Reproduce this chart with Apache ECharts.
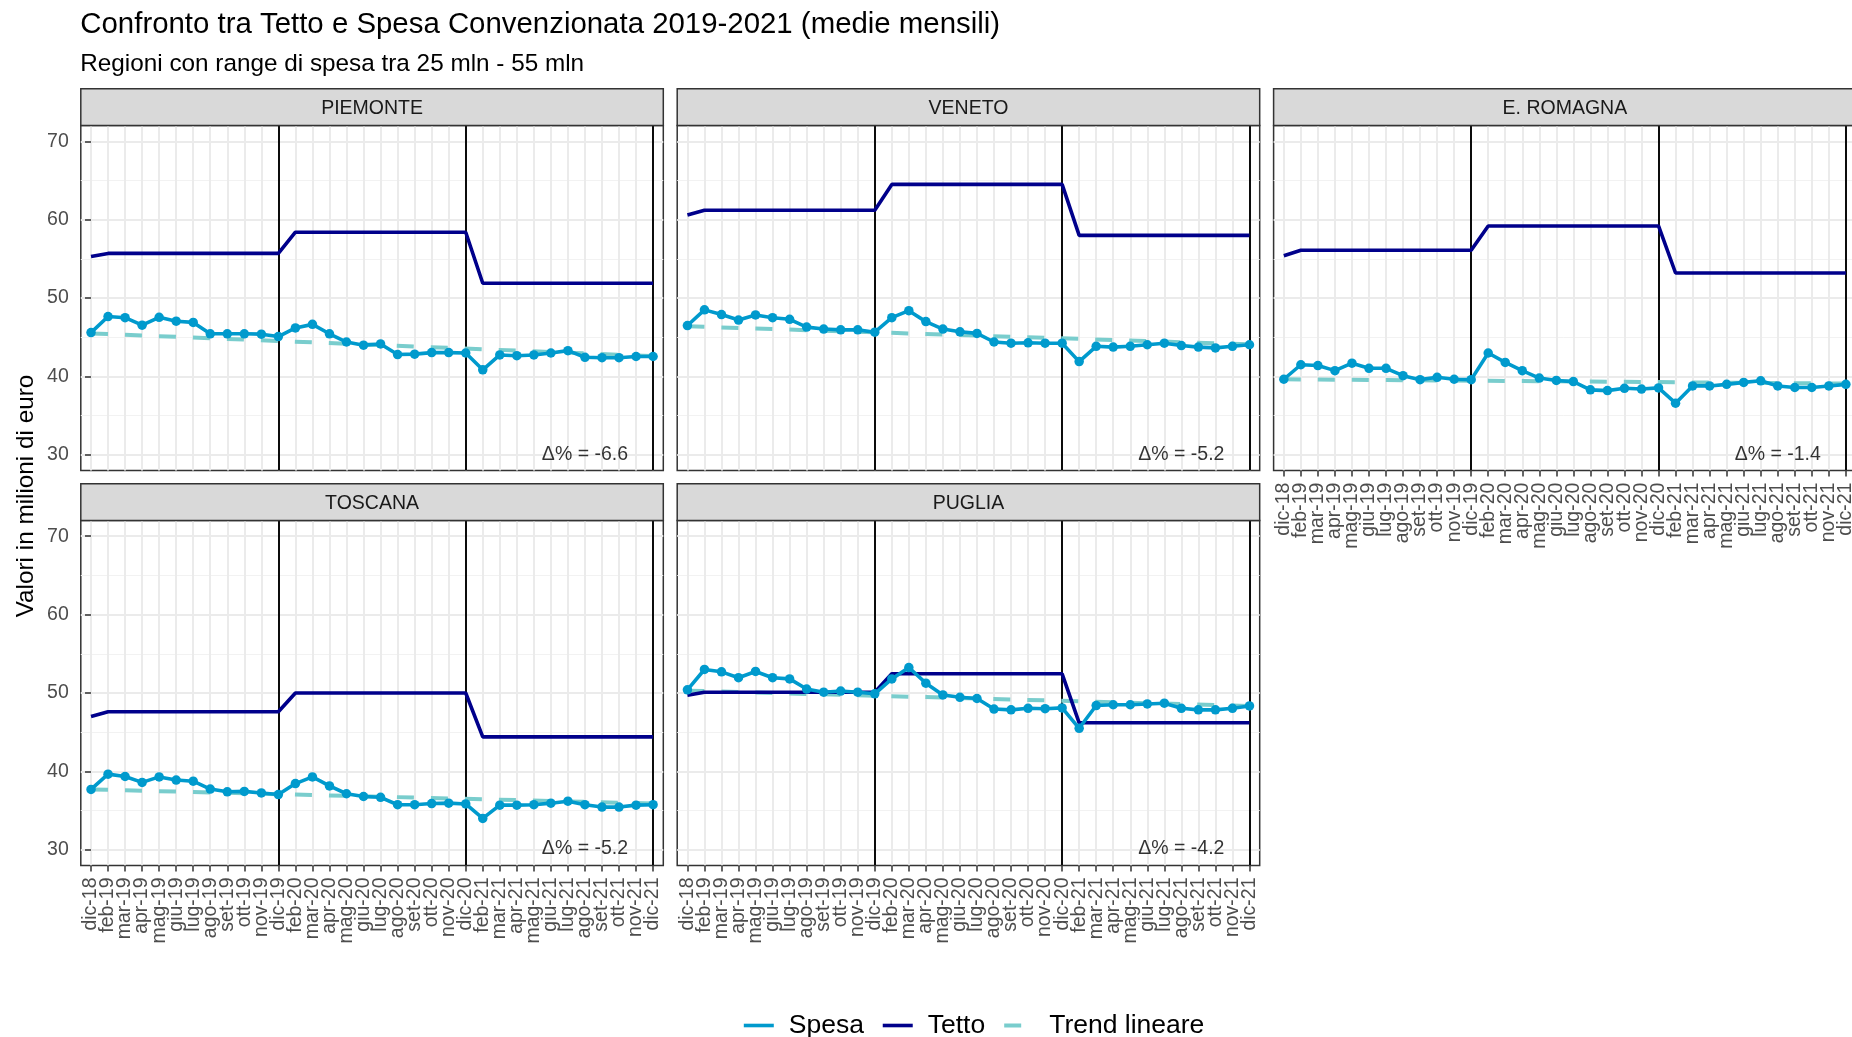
<!DOCTYPE html>
<html>
<head>
<meta charset="UTF-8">
<title>Confronto tra Tetto e Spesa Convenzionata 2019-2021</title>
<script src="https://cdn.jsdelivr.net/npm/echarts@6/dist/echarts.min.js"></script>
<style>
  html, body { margin: 0; padding: 0; background: #fff; }
  #chart { width: 1852px; height: 1037px; }
</style>
</head>
<body>
<div id="chart"></div>
<script type="text/javascript">

// mesi sull'asse x (gennaio non compare)
var mesi = ['dic-18','feb-19','mar-19','apr-19','mag-19','giu-19','lug-19','ago-19','set-19','ott-19','nov-19',
            'dic-19','feb-20','mar-20','apr-20','mag-20','giu-20','lug-20','ago-20','set-20','ott-20','nov-20',
            'dic-20','feb-21','mar-21','apr-21','mag-21','giu-21','lug-21','ago-21','set-21','ott-21','nov-21','dic-21'];
var mesiSoglia = ['dic-19', 'dic-20', 'dic-21'];
var tickY = [30, 40, 50, 60, 70];
var tickYMinor = [35, 45, 55, 65];

var regioni = ['PIEMONTE', 'VENETO', 'E. ROMAGNA', 'TOSCANA', 'PUGLIA'];

var spesaPiemonte = [45.6, 47.65, 47.5, 46.55, 47.55, 47.05, 46.9, 45.45, 45.45, 45.45, 45.4,
                     45.1, 46.2, 46.65, 45.45, 44.4, 44.0, 44.15, 42.8, 42.85, 43.05, 43.05,
                     43.0, 40.85, 42.75, 42.65, 42.75, 43.0, 43.3, 42.45, 42.4, 42.4, 42.55, 42.55];
var spesaVeneto = [46.5, 48.5, 47.9, 47.2, 47.85, 47.5, 47.3, 46.3, 46.05, 45.95, 45.95,
                   45.65, 47.5, 48.4, 47.0, 46.05, 45.7, 45.5, 44.4, 44.25, 44.3, 44.25,
                   44.25, 41.9, 43.85, 43.75, 43.85, 44.05, 44.25, 43.95, 43.75, 43.65, 43.85, 44.05];
var spesaEmilia = [39.65, 41.5, 41.4, 40.75, 41.7, 41.05, 41.05, 40.1, 39.6, 39.9, 39.65,
                   39.6, 43.0, 41.8, 40.75, 39.8, 39.5, 39.35, 38.3, 38.2, 38.5, 38.4,
                   38.55, 36.6, 38.8, 38.8, 39.0, 39.25, 39.45, 38.8, 38.6, 38.6, 38.8, 39.0];
var spesaToscana = [37.7, 39.65, 39.35, 38.6, 39.3, 38.9, 38.75, 37.75, 37.4, 37.45, 37.25,
                    37.05, 38.45, 39.3, 38.15, 37.15, 36.8, 36.7, 35.75, 35.75, 35.9, 35.95,
                    35.85, 34.0, 35.7, 35.7, 35.75, 35.95, 36.2, 35.75, 35.45, 35.45, 35.7, 35.75];
var spesaPuglia = [50.4, 53.0, 52.7, 51.95, 52.75, 51.95, 51.8, 50.5, 50.1, 50.25, 50.1,
                   49.9, 51.8, 53.25, 51.25, 49.75, 49.45, 49.3, 47.95, 47.85, 48.05, 48.0,
                   48.1, 45.5, 48.4, 48.5, 48.5, 48.6, 48.7, 48.05, 47.85, 47.85, 48.05, 48.35];

var tettoPiemonte = [55.3, 55.7, 55.7, 55.7, 55.7, 55.7, 55.7, 55.7, 55.7, 55.7, 55.7,
                     55.7, 58.4, 58.4, 58.4, 58.4, 58.4, 58.4, 58.4, 58.4, 58.4, 58.4,
                     58.4, 51.9, 51.9, 51.9, 51.9, 51.9, 51.9, 51.9, 51.9, 51.9, 51.9, 51.9];
var tettoVeneto = [60.6, 61.2, 61.2, 61.2, 61.2, 61.2, 61.2, 61.2, 61.2, 61.2, 61.2,
                   61.2, 64.5, 64.5, 64.5, 64.5, 64.5, 64.5, 64.5, 64.5, 64.5, 64.5,
                   64.5, 58.0, 58.0, 58.0, 58.0, 58.0, 58.0, 58.0, 58.0, 58.0, 58.0, 58.0];
var tettoEmilia = [55.4, 56.1, 56.1, 56.1, 56.1, 56.1, 56.1, 56.1, 56.1, 56.1, 56.1,
                   56.1, 59.2, 59.2, 59.2, 59.2, 59.2, 59.2, 59.2, 59.2, 59.2, 59.2,
                   59.2, 53.2, 53.2, 53.2, 53.2, 53.2, 53.2, 53.2, 53.2, 53.2, 53.2, 53.2];
var tettoToscana = [47.0, 47.6, 47.6, 47.6, 47.6, 47.6, 47.6, 47.6, 47.6, 47.6, 47.6,
                    47.6, 50.0, 50.0, 50.0, 50.0, 50.0, 50.0, 50.0, 50.0, 50.0, 50.0,
                    50.0, 44.4, 44.4, 44.4, 44.4, 44.4, 44.4, 44.4, 44.4, 44.4, 44.4, 44.4];
var tettoPuglia = [49.7, 50.1, 50.1, 50.1, 50.1, 50.1, 50.1, 50.1, 50.1, 50.1, 50.1,
                   50.1, 52.45, 52.45, 52.45, 52.45, 52.45, 52.45, 52.45, 52.45, 52.45, 52.45,
                   52.45, 46.2, 46.2, 46.2, 46.2, 46.2, 46.2, 46.2, 46.2, 46.2, 46.2, 46.2];

// trend lineare: valore a dic-18 e a dic-21
var trendPiemonte = [45.5, 42.6];
var trendVeneto = [46.4, 44.1];
var trendEmilia = [39.65, 39.1];
var trendToscana = [37.7, 35.9];
var trendPuglia = [50.3, 48.35];

var deltaPerc = ['-6.6', '-5.2', '-1.4', '-5.2', '-4.2'];

var spese = [spesaPiemonte, spesaVeneto, spesaEmilia, spesaToscana, spesaPuglia];
var tetti = [tettoPiemonte, tettoVeneto, tettoEmilia, tettoToscana, tettoPuglia];
var trend = [trendPiemonte, trendVeneto, trendEmilia, trendToscana, trendPuglia];

// layout
var FONT = "'Liberation Sans', Arial, sans-serif";
var colLeft = [80.8, 677.2, 1273.6];
var rowTop = [125.6, 520.5];
var panelW = 582.5, panelH = 345, stripH = 36.8;
var posPannelli = [[0, 0], [0, 1], [0, 2], [1, 0], [1, 1]];
var conAsseX = [false, false, true, true, true];
var conAsseY = [true, false, false, true, false];
var posDelta = [29, 30.1];

var colSpesa = '#009ACD', colTetto = '#00008B', colTrend = '#79CDCD';

var idxMesi = mesi.map(function (m, k) { return k; });
var idxPari = idxMesi.filter(function (k) { return k % 2 === 0; });
var idxDispari = idxMesi.filter(function (k) { return k % 2 === 1; });
var idxSoglia = mesiSoglia.map(function (m) { return { xAxis: mesi.indexOf(m) }; });

function coppie(arr) {
  return arr.map(function (v, k) { return [k, v]; });
}

function etichetteX(valori, visibile) {
  return {
    show: visibile, customValues: valori, rotate: 90, margin: 12,
    showMinLabel: true, showMaxLabel: true, hideOverlap: false,
    padding: [4, 0, 0, 0],
    fontSize: 19.5, color: '#4D4D4D', fontFamily: FONT,
    formatter: function (v) { return mesi[Math.round(v)]; }
  };
}

var grids = [], xAxes = [], yAxes = [], series = [], graphics = [];

regioni.forEach(function (reg, i) {
  var r = posPannelli[i][0], c = posPannelli[i][1];
  var left = colLeft[c], top = rowTop[r];
  var g = grids.length;
  var yi = yAxes.length;

  grids.push({
    left: left, top: top, width: panelW, height: panelH,
    show: true, backgroundColor: '#fff', borderColor: '#333333', borderWidth: 1.5,
    outerBoundsMode: 'none', containLabel: false
  });

  xAxes.push({
    gridIndex: g, type: 'value', min: -0.6, max: 33.6,
    axisLine: { show: false },
    axisTick: { show: conAsseX[i], customValues: idxMesi, length: 6,
                lineStyle: { color: '#333333', width: 1.5 } },
    axisLabel: etichetteX(idxPari, conAsseX[i]),
    splitLine: { show: true, lineStyle: { color: '#EBEBEB', width: 2 } },
    minorSplitLine: { show: false }
  });
  var xi = xAxes.length - 1;

  yAxes.push({
    gridIndex: g, type: 'value', min: 28, max: 72, position: 'left',
    axisLine: { show: false },
    axisTick: { show: conAsseY[i], customValues: tickY, length: 6,
                lineStyle: { color: '#333333', width: 1.5 } },
    axisLabel: { show: conAsseY[i], customValues: tickY, margin: 12,
                 showMinLabel: true, showMaxLabel: true,
                 fontSize: 19.5, color: '#4D4D4D', fontFamily: FONT },
    splitLine: { show: true, lineStyle: { color: '#EBEBEB', width: 2 } }
  });
  yAxes.push({
    gridIndex: g, type: 'value', min: 28, max: 72, position: 'right',
    axisLine: { show: false },
    axisTick: { show: false, customValues: tickYMinor },
    axisLabel: { show: false, customValues: tickYMinor },
    splitLine: { show: true, lineStyle: { color: '#F2F2F2', width: 1 } }
  });

  // seconda griglia sovrapposta: etichette dei mesi dispari (evita che si nascondano a vicenda)
  if (conAsseX[i]) {
    var g2 = grids.length;
    grids.push({
      left: left, top: top, width: panelW, height: panelH,
      show: false, outerBoundsMode: 'none', containLabel: false
    });
    xAxes.push({
      gridIndex: g2, type: 'value', min: -0.6, max: 33.6,
      axisLine: { show: false }, axisTick: { show: false },
      splitLine: { show: false },
      axisLabel: etichetteX(idxDispari, true)
    });
    yAxes.push({
      gridIndex: g2, type: 'value', min: 28, max: 72, show: false
    });
  }

  series.push({
    name: 'Trend lineare', type: 'line', xAxisIndex: xi, yAxisIndex: yi,
    data: [[0, trend[i][0]], [mesi.length - 1, trend[i][1]]],
    symbol: 'none', silent: true, z: 3,
    lineStyle: { color: colTrend, width: 4, type: [17, 17] },
    itemStyle: { color: colTrend },
    markLine: {
      silent: true, symbol: ['none', 'none'], z: 2,
      label: { show: false },
      lineStyle: { color: '#000', width: 1.9, type: 'solid' },
      emphasis: { disabled: true },
      data: idxSoglia
    }
  });
  series.push({
    name: 'Tetto', type: 'line', xAxisIndex: xi, yAxisIndex: yi,
    data: coppie(tetti[i]), symbol: 'none', silent: true, z: 4,
    lineStyle: { color: colTetto, width: 3.6 }, itemStyle: { color: colTetto }
  });
  series.push({
    name: 'Spesa', type: 'line', xAxisIndex: xi, yAxisIndex: yi,
    data: coppie(spese[i]), symbol: 'none', silent: true, z: 6,
    lineStyle: { color: colSpesa, width: 3.6 }, itemStyle: { color: colSpesa }
  });
  series.push({
    name: 'Spesa', type: 'scatter', xAxisIndex: xi, yAxisIndex: yi,
    data: coppie(spese[i]), symbolSize: 9.5, silent: true, z: 7,
    itemStyle: { color: colSpesa, opacity: 1 }
  });
  series.push({
    name: 'delta', type: 'scatter', xAxisIndex: xi, yAxisIndex: yi,
    data: [posDelta], symbolSize: 1, silent: true, z: 8,
    itemStyle: { color: 'rgba(0,0,0,0)' },
    label: { show: true, position: 'inside', formatter: 'Δ% = ' + deltaPerc[i],
             fontSize: 19.5, color: '#000', fontFamily: FONT }
  });

  // strip del pannello
  graphics.push({
    type: 'rect', z: 10,
    shape: { x: left, y: top - stripH, width: panelW, height: stripH },
    style: { fill: '#D9D9D9', stroke: '#333333', lineWidth: 1.5 }
  });
  graphics.push({
    type: 'text', z: 11,
    style: { text: reg, x: left + panelW / 2, y: top - stripH / 2 + 1.5,
             textAlign: 'center', textVerticalAlign: 'middle',
             fontSize: 19.5, fill: '#1A1A1A', fontFamily: FONT }
  });
});

graphics.push({
  type: 'text', z: 11,
  style: { text: 'Confronto tra Tetto e Spesa Convenzionata 2019-2021 (medie mensili)',
           x: 80.3, y: 25, textAlign: 'left', textVerticalAlign: 'middle',
           fontSize: 29.4, fill: '#000', fontFamily: FONT }
});
graphics.push({
  type: 'text', z: 11,
  style: { text: 'Regioni con range di spesa tra 25 mln - 55 mln',
           x: 80.3, y: 64.5, textAlign: 'left', textVerticalAlign: 'middle',
           fontSize: 24.3, fill: '#000', fontFamily: FONT }
});
graphics.push({
  type: 'text', z: 11, x: 26.6, y: 496, rotation: Math.PI / 2,
  style: { text: 'Valori in milioni di euro', x: 0, y: 0,
           textAlign: 'center', textVerticalAlign: 'middle',
           fontSize: 24.3, fill: '#000', fontFamily: FONT }
});

var myChart = echarts.init(document.getElementById('chart'), null, { renderer: 'canvas' });

var option = {
  backgroundColor: '#fff',
  animation: false,
  textStyle: { fontFamily: FONT },
  grid: grids,
  xAxis: xAxes,
  yAxis: yAxes,
  legend: {
    data: ['Spesa', 'Tetto', 'Trend lineare'],
    left: 737, top: 1007, orient: 'horizontal',
    itemWidth: 30, itemHeight: 14, itemGap: 17,
    selectedMode: false,
    itemStyle: { opacity: 0 },
    lineStyle: { width: 'inherit', type: 'inherit' },
    textStyle: { fontSize: 26.5, color: '#000', fontFamily: FONT, padding: [0, 0, 0, 10] }
  },
  graphic: graphics,
  series: series
};

myChart.setOption(option);

</script>
</body>
</html>
